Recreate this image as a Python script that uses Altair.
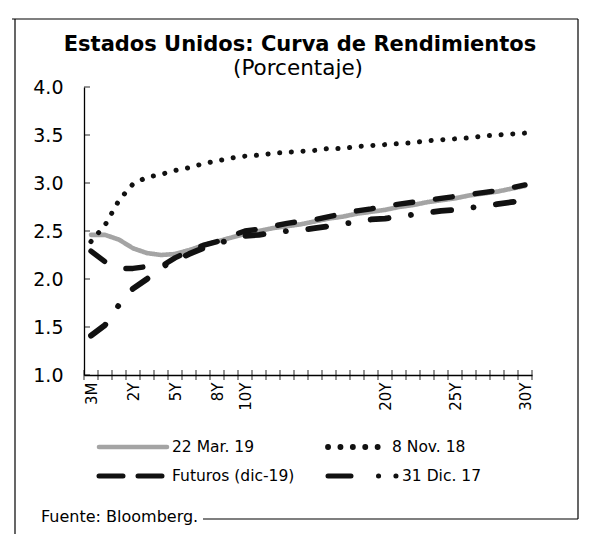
import altair as alt
import pandas as pd

# ---------------- data ----------------
tenors = ["3M", "6M", "1Y"] + [f"{n}Y" for n in range(2, 31)]
shown = ["3M", "2Y", "5Y", "8Y", "10Y", "20Y", "25Y", "30Y"]

mar19 = [2.46, 2.46, 2.41, 2.32, 2.27, 2.25, 2.26, 2.30, 2.35, 2.39, 2.43, 2.47, 2.50, 2.53, 2.55, 2.57,
         2.60, 2.63, 2.65, 2.68, 2.70, 2.72, 2.75, 2.77, 2.80, 2.82, 2.84, 2.87, 2.89, 2.91, 2.94, 2.97]
nov18 = [2.39, 2.56, 2.82, 2.99, 3.06, 3.09, 3.13, 3.16, 3.20, 3.23, 3.26, 3.28, 3.29, 3.31, 3.32, 3.33,
         3.34, 3.36, 3.36, 3.38, 3.39, 3.40, 3.41, 3.42, 3.44, 3.45, 3.46, 3.47, 3.49, 3.50, 3.51, 3.52]
fut19 = [2.29, 2.18, 2.11, 2.11, 2.13, 2.13, 2.22, 2.29, 2.35, 2.39, 2.45, 2.50, 2.52, 2.55, 2.58, 2.60,
         2.62, 2.65, 2.68, 2.71, 2.73, 2.76, 2.78, 2.80, 2.82, 2.84, 2.86, 2.88, 2.90, 2.92, 2.95, 2.98]
dic17 = [1.41, 1.52, 1.73, 1.90, 2.00, 2.12, 2.19, 2.26, 2.32, 2.37, 2.41, 2.45, 2.46, 2.48, 2.50, 2.51,
         2.53, 2.55, 2.57, 2.60, 2.62, 2.63, 2.65, 2.67, 2.69, 2.71, 2.72, 2.74, 2.76, 2.78, 2.80, 2.82]

names = ["22 Mar. 19", "8 Nov. 18", "Futuros (dic-19)", "31 Dic. 17"]
y_ticks = [1.0, 1.5, 2.0, 2.5, 3.0, 3.5, 4.0]

title_text = "Estados Unidos: Curva de Rendimientos"
subtitle_text = "(Porcentaje)"
source_text = "Fuente: Bloomberg."

# ---------------- styles ----------------
colors = ["#a4a4a4", "#111111", "#111111", "#111111"]
dashes = [[1, 0], [0.1, 11.6], [17, 23], [18, 22.5, 0.1, 22.5]]
legend_dashes = [[1, 0], [0.1, 12.3], [24, 15], [23, 27.5, 0.1, 17.3, 0.1, 40]]
widths = [4.6, 5.8, 5, 5]
FONT = "DejaVu Sans"
W, H = 448, 288

rows = []
for name, vals in zip(names, [mar19, nov18, fut19, dic17]):
    for i, (t, v) in enumerate(zip(tenors, vals)):
        rows.append({"serie": name, "idx": i, "plazo": t, "tasa": v})
df = pd.DataFrame(rows)

label_arr = "[" + ",".join(f"'{t}'" for t in tenors) + "][datum.value]"
xscale = alt.Scale(domain=[-0.5, len(tenors) - 0.5], nice=False, zero=False)
yscale = alt.Scale(domain=[1.0, 4.0], nice=False, zero=False)

xaxis = alt.Axis(values=[tenors.index(t) for t in shown], labelExpr=label_arr,
                 ticks=False, grid=False, title=None, labelAngle=270,
                 labelFontSize=15, labelPadding=7, labelFlush=False,
                 labelFont=FONT, labelColor="black",
                 domainColor="black", domainWidth=1.3)
yaxis = alt.Axis(values=y_ticks, format=".1f", ticks=False, grid=False, title=None,
                 labelFontSize=19, labelPadding=21, labelFont=FONT,
                 labelColor="black", domainColor="black", domainWidth=1.3)

lines = alt.Chart(df).mark_line(strokeCap="round", strokeJoin="round").encode(
    x=alt.X("idx:Q", scale=xscale, axis=xaxis),
    y=alt.Y("tasa:Q", scale=yscale, axis=yaxis),
    color=alt.Color("serie:N", scale=alt.Scale(domain=names, range=colors), legend=None),
    strokeDash=alt.StrokeDash("serie:N", scale=alt.Scale(domain=names, range=dashes), legend=None),
    strokeWidth=alt.StrokeWidth("serie:N", scale=alt.Scale(domain=names, range=widths), legend=None),
    order=alt.Order("idx:Q"),
)

# category separators crossing the x axis
bounds = pd.DataFrame({"b": [i - 0.5 for i in range(len(tenors) + 1)]})
xticks = alt.Chart(bounds).mark_tick(orient="vertical", size=10, thickness=1.2, color="black").encode(
    x=alt.X("b:Q", scale=xscale, axis=xaxis),
    y=alt.datum(1.0),
)

# inside ticks on the y axis
yt = pd.DataFrame({"v": y_ticks})
yticks = alt.Chart(yt).mark_tick(orient="horizontal", size=6, thickness=1.2, color="black",
                                  xOffset=3).encode(
    x=alt.datum(-0.5),
    y=alt.Y("v:Q", scale=yscale, axis=yaxis),
)

one = pd.DataFrame({"k": [0]})
base = alt.Chart(one)
deco = [
    base.mark_rule(color="black", strokeWidth=1.2).encode(
        x=alt.value(-72), x2=alt.value(494), y=alt.value(-68)),
    base.mark_rule(color="black", strokeWidth=1.2).encode(
        x=alt.value(-69), y=alt.value(-68), y2=alt.value(447)),
    base.mark_rule(color="black", strokeWidth=1.2).encode(
        x=alt.value(494), y=alt.value(-68), y2=alt.value(432)),
    base.mark_rule(color="black", strokeWidth=1.2).encode(
        x=alt.value(119), x2=alt.value(494), y=alt.value(432)),
    base.mark_text(align="center", baseline="alphabetic", fontSize=21, fontWeight="bold",
                   font=FONT, color="black").encode(
        x=alt.value(216), y=alt.value(-36), text=alt.value(title_text)),
    base.mark_text(align="center", baseline="alphabetic", fontSize=21.5, font=FONT,
                   color="black").encode(
        x=alt.value(214), y=alt.value(-12), text=alt.value(subtitle_text)),
    base.mark_text(align="left", baseline="alphabetic", fontSize=16, font=FONT,
                   color="black").encode(
        x=alt.value(-43), y=alt.value(435), text=alt.value(source_text)),
]

# manual legend (2 x 2)
sym_x0 = [13, 242]
sym_len = [72, 62, 67, 74]
lab_x = [88, 308]
row_y = [360, 389]
for k, name in enumerate(names):
    col, row = k % 2, k // 2
    x0 = sym_x0[col] + 2
    deco.append(base.mark_rule(color=colors[k], strokeWidth=widths[k], strokeCap="round",
                               strokeDash=legend_dashes[k]).encode(
        x=alt.value(x0), x2=alt.value(x0 + sym_len[k] - 4), y=alt.value(row_y[row])))
    deco.append(base.mark_text(align="left", baseline="middle", fontSize=15.5, font=FONT,
                               color="black").encode(
        x=alt.value(lab_x[col] + (10 if k == 3 else 0)), y=alt.value(row_y[row]),
        text=alt.value(name)))

chart = alt.layer(lines, xticks, yticks, *deco).properties(
    width=W, height=H,
    autosize=alt.AutoSizeParams(type="none"),
    padding={"left": 76, "top": 79, "right": 50, "bottom": 165},
    background="white",
).configure_view(stroke=None)

chart.save("out.html", embed_options={"renderer": "svg", "actions": False})
